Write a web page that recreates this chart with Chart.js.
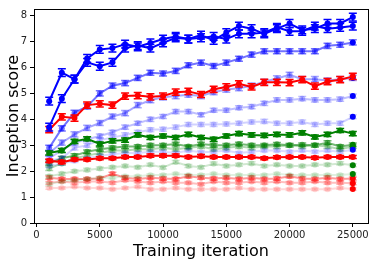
<!DOCTYPE html>
<html>
<head>
<meta charset="utf-8">
<script src="https://cdn.jsdelivr.net/npm/chart.js@4.4.1/dist/chart.umd.min.js"></script>
<style>
  html, body { margin: 0; padding: 0; background: #fff; }
  #wrap { width: 375px; height: 262px; }
</style>
</head>
<body>
<div id="wrap"><canvas id="chart" width="375" height="262"></canvas></div>
<script>
// training iterations (x)
const iterations = [1000, 2000, 3000, 4000, 5000, 6000, 7000, 8000, 9000, 10000,
  11000, 12000, 13000, 14000, 15000, 16000, 17000, 18000, 19000, 20000,
  21000, 22000, 23000, 24000, 25000];

// blue family
const blueA = [4.7, 5.8, 5.55, 6.35, 6.7, 6.75, 6.9, 6.8, 6.95, 7.1, 7.2, 7.1, 7.25, 7.05, 7.35, 7.6, 7.5, 7.3, 7.5, 7.7, 7.45, 7.5, 7.7, 7.7, 7.95];
const blueB = [3.7, 4.8, 5.55, 6.2, 6.05, 6.2, 6.75, 6.85, 6.75, 6.95, 7.15, 7.1, 7.15, 7.2, 7.1, 7.3, 7.3, 7.35, 7.55, 7.4, 7.4, 7.6, 7.5, 7.55, 7.6];
const blueC = [2.9, 3.65, 4.25, 4.5, 5.0, 5.3, 5.4, 5.6, 5.8, 5.77, 5.87, 6.09, 6.19, 6.06, 6.19, 6.34, 6.5, 6.63, 6.63, 6.63, 6.63, 6.63, 6.84, 6.88, 6.97];
const blueD = [2.7, 3.1, 3.42, 3.67, 3.86, 4.11, 4.24, 4.55, 4.74, 4.85, 4.9, 4.95, 4.9, 5.05, 5.15, 5.2, 5.3, 5.45, 5.58, 5.72, 5.55, 5.55, 5.5, 5.55, 5.6];
const blueE = [2.5, 2.8, 3.1, 3.23, 3.36, 3.5, 3.7, 3.85, 4.0, 4.11, 4.3, 4.3, 4.18, 4.35, 4.35, 4.45, 4.49, 4.62, 4.75, 4.75, 4.8, 4.75, 4.75, 4.78, 4.9];
const blueF = [2.4, 2.5, 2.9, 3.0, 3.2, 3.3, 3.4, 3.5, 3.6, 3.62, 3.7, 3.8, 3.8, 3.8, 3.82, 3.85, 3.9, 3.92, 3.85, 3.85, 3.9, 3.8, 3.85, 3.85, 4.1];
const blueG = [2.2, 2.3, 2.4, 2.5, 2.6, 2.65, 2.7, 2.7, 2.75, 2.75, 2.7, 2.8, 2.73, 2.75, 2.8, 2.7, 2.75, 2.8, 2.8, 2.75, 2.8, 2.75, 2.8, 2.75, 2.83];

// red family
const redA = [3.6, 4.1, 4.05, 4.55, 4.6, 4.55, 4.9, 4.92, 4.87, 4.9, 5.05, 5.08, 4.96, 5.16, 5.25, 5.37, 5.25, 5.43, 5.43, 5.42, 5.53, 5.28, 5.46, 5.53, 5.66];
const redB = [2.4, 2.35, 2.45, 2.45, 2.5, 2.5, 2.55, 2.55, 2.6, 2.6, 2.6, 2.55, 2.58, 2.55, 2.55, 2.55, 2.55, 2.5, 2.54, 2.55, 2.55, 2.52, 2.55, 2.55, 2.55];
const redC = [1.75, 1.7, 1.7, 1.7, 1.72, 1.9, 1.75, 1.7, 1.75, 1.72, 1.7, 1.8, 1.75, 1.72, 1.75, 1.7, 1.75, 1.7, 1.72, 1.8, 1.72, 1.7, 1.75, 1.7, 1.72];
const redD = [1.55, 1.6, 1.55, 1.6, 1.6, 1.55, 1.65, 1.6, 1.55, 1.6, 1.55, 1.55, 1.5, 1.6, 1.55, 1.55, 1.6, 1.55, 1.6, 1.55, 1.55, 1.6, 1.55, 1.55, 1.53];
const redE = [1.35, 1.35, 1.4, 1.35, 1.35, 1.3, 1.35, 1.4, 1.3, 1.3, 1.35, 1.3, 1.3, 1.3, 1.3, 1.35, 1.3, 1.3, 1.3, 1.3, 1.3, 1.3, 1.3, 1.35, 1.31];

// green family
const greenA = [2.7, 2.8, 3.15, 3.25, 3.05, 3.17, 3.2, 3.4, 3.3, 3.36, 3.3, 3.42, 3.3, 3.23, 3.36, 3.45, 3.4, 3.38, 3.42, 3.4, 3.48, 3.32, 3.42, 3.57, 3.45];
const greenB = [2.3, 2.5, 2.6, 2.75, 2.85, 2.9, 2.95, 2.95, 3.0, 3.0, 3.05, 2.95, 3.05, 3.0, 3.0, 3.05, 3.0, 3.0, 3.04, 3.0, 3.02, 3.0, 3.1, 2.95, 3.02];
const greenC = [2.1, 2.3, 2.5, 2.6, 2.7, 2.8, 2.8, 2.85, 2.85, 2.9, 2.85, 2.9, 2.95, 2.85, 2.9, 2.95, 2.9, 2.95, 2.95, 3.0, 2.95, 3.0, 2.95, 2.85, 2.95];
const greenD = [1.8, 1.9, 2.0, 2.05, 2.1, 2.15, 2.2, 2.15, 2.25, 2.14, 2.35, 2.2, 2.15, 2.29, 2.2, 2.25, 2.3, 2.2, 2.25, 2.2, 2.2, 2.25, 2.25, 2.3, 2.23];
const greenE = [1.5, 1.6, 1.65, 1.7, 1.75, 1.75, 1.8, 1.8, 1.85, 1.85, 1.9, 1.85, 1.85, 1.9, 1.85, 1.85, 1.85, 1.85, 1.9, 1.85, 1.85, 1.85, 1.85, 1.85, 1.89];

const xTicks = [0, 5000, 10000, 15000, 20000, 25000];
const yTicks = [0, 1, 2, 3, 4, 5, 6, 7, 8];

// styling per series (first entries are drawn on top)
const series = [
  { data: blueA,  rgb: '0,0,255',   alpha: 1.0,  err: 0.15 },
  { data: blueB,  rgb: '0,0,255',   alpha: 1.0,  err: 0.15 },
  { data: redA,   rgb: '255,0,0',   alpha: 1.0,  err: 0.12 },
  { data: greenA, rgb: '0,128,0',   alpha: 1.0,  err: 0.08 },
  { data: redB,   rgb: '255,0,0',   alpha: 1.0,  err: 0.06 },
  { data: blueC,  rgb: '0,0,255',   alpha: 0.55, err: 0.1 },
  { data: blueD,  rgb: '0,0,255',   alpha: 0.35, err: 0.1 },
  { data: blueE,  rgb: '0,0,255',   alpha: 0.25, err: 0.08 },
  { data: blueF,  rgb: '0,0,255',   alpha: 0.18, err: 0.08 },
  { data: blueG,  rgb: '0,0,255',   alpha: 0.14, err: 0.06 },
  { data: greenB, rgb: '0,128,0',   alpha: 0.55, err: 0.07 },
  { data: greenC, rgb: '0,128,0',   alpha: 0.3,  err: 0.07 },
  { data: greenD, rgb: '0,128,0',   alpha: 0.18, err: 0.06 },
  { data: greenE, rgb: '0,128,0',   alpha: 0.12, err: 0.05 },
  { data: redC,   rgb: '255,0,0',   alpha: 0.4,  err: 0.06 },
  { data: redD,   rgb: '255,0,0',   alpha: 0.25, err: 0.05 },
  { data: redE,   rgb: '255,0,0',   alpha: 0.15, err: 0.05 }
];

const rgba = (rgb, a) => `rgba(${rgb},${a})`;

const datasets = series.map(s => {
  const c = rgba(s.rgb, s.alpha);
  // the last point of every run is drawn solid
  const pts = s.data.map((_, i) => i === s.data.length - 1 ? rgba(s.rgb, 1) : c);
  return {
    data: s.data.map((v, i) => ({ x: iterations[i], y: v })),
    borderColor: c,
    backgroundColor: c,
    borderWidth: 2,
    pointRadius: 3,
    pointBackgroundColor: pts,
    pointBorderColor: pts,
    pointBorderWidth: 0,
    tension: 0,
    err: s.err
  };
});

// matplotlib style error bars, drawn right after each dataset
const errorBars = {
  id: 'errorBars',
  afterDatasetDraw(chart, args) {
    const ds = chart.data.datasets[args.index];
    const xs = chart.scales.x, ys = chart.scales.y;
    const ctx = chart.ctx;
    ctx.save();
    ctx.strokeStyle = ds.borderColor;
    ctx.lineWidth = 1.5;
    ds.data.forEach(p => {
      const px = xs.getPixelForValue(p.x);
      const y1 = ys.getPixelForValue(p.y - ds.err);
      const y2 = ys.getPixelForValue(p.y + ds.err);
      ctx.beginPath();
      ctx.moveTo(px, y1); ctx.lineTo(px, y2);
      ctx.moveTo(px - 4, y1); ctx.lineTo(px + 4, y1);
      ctx.moveTo(px - 4, y2); ctx.lineTo(px + 4, y2);
      ctx.stroke();
    });
    ctx.restore();
  }
};

// full box around the plot, like matplotlib spines
const frame = {
  id: 'frame',
  afterDraw(chart) {
    const a = chart.chartArea, ctx = chart.ctx;
    ctx.save();
    ctx.strokeStyle = '#000';
    ctx.lineWidth = 1;
    ctx.strokeRect(Math.round(a.left) + 0.5, Math.round(a.top) + 0.5,
      Math.round(a.right - a.left), Math.round(a.bottom - a.top));
    ctx.restore();
  }
};

new Chart(document.getElementById('chart'), {
  type: 'line',
  data: { datasets },
  options: {
    responsive: false,
    animation: false,
    layout: { padding: { top: 5, right: 7, left: 0, bottom: 0 } },
    plugins: { legend: { display: false }, tooltip: { enabled: false } },
    scales: {
      x: {
        type: 'linear', min: -200, max: 26200,
        afterBuildTicks: axis => { axis.ticks = xTicks.map(v => ({ value: v })); },
        afterFit: axis => { axis.height = 39; },
        grid: { drawOnChartArea: false, drawTicks: true, tickLength: 4, color: '#000' },
        border: { display: false },
        ticks: { color: '#222', font: { family: 'DejaVu Sans', size: 10 }, padding: 2, maxRotation: 0,
          callback: v => String(v) },
        title: { display: true, text: 'Training iteration', color: '#000', font: { family: 'DejaVu Sans', size: 16 }, padding: { top: 0, bottom: 1 } }
      },
      y: {
        min: 0, max: 8.26,
        afterBuildTicks: axis => { axis.ticks = yTicks.map(v => ({ value: v })); },
        afterFit: axis => { axis.width = 34; },
        grid: { drawOnChartArea: false, drawTicks: true, tickLength: 4, color: '#000' },
        border: { display: false },
        ticks: { color: '#222', font: { family: 'DejaVu Sans', size: 10 }, padding: 3 },
        title: { display: true, text: 'Inception score', color: '#000', font: { family: 'DejaVu Sans', size: 16 }, padding: { bottom: 0 } }
      }
    }
  },
  plugins: [errorBars, frame]
});
</script>
</body>
</html>
